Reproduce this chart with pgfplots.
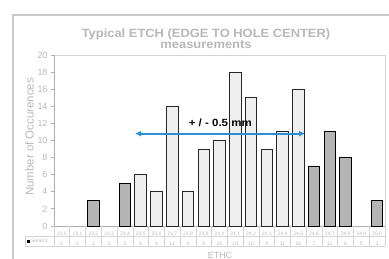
\documentclass[border=0pt]{standalone}
\usepackage{pgfplots}
\pgfplotsset{compat=1.18}
\usepackage{fontspec}
\setmainfont{Liberation Sans}
\usetikzlibrary{arrows.meta}
\definecolor{framegray}{HTML}{CACACA}
\definecolor{txtgray}{HTML}{B8B8B8}
\definecolor{axgray}{HTML}{B0B0B0}
\definecolor{tblgray}{HTML}{D4D4D4}
\definecolor{darkbar}{HTML}{B4B4B4}
\definecolor{lightbar}{HTML}{EEEFEE}
\definecolor{arrowblue}{HTML}{2A8FD6}
\begin{document}
\begin{tikzpicture}
\path[use as bounding box] (0,0) rectangle (389bp,259bp);
\draw[framegray, line width=1.3bp] (13bp,-2bp) -- (13bp,244bp) -- (392bp,244bp);
\node[txtgray, font=\bfseries\fontsize{12}{11.5}\selectfont, align=center, xscale=1.08] at (206bp,220.5bp) {Typical ETCH (EDGE TO HOLE CENTER)\\measurements};
\node[txtgray, font=\fontsize{11.5}{11.5}\selectfont, rotate=90] at (29.5bp,122bp) {Number of Occurences};
\node[txtgray, font=\fontsize{9}{9}\selectfont] at (220bp,4bp) {ETHC};
\begin{axis}[
  at={(54bp,33bp)}, anchor=south west,
  scale only axis, width=331bp, height=171bp,
  xmin=-0.5, xmax=20.5, ymin=0, ymax=20,
  ytick={0,2,...,20},
  xtick={0,...,20},
  xticklabels={{23,0\\0},{23,1\\0},{23,2\\3},{23,3\\0},{23,4\\5},{23,5\\6},{23,6\\4},{23,7\\14},{23,8\\4},{23,9\\9},{24,0\\10},{24,1\\18},{24,2\\15},{24,3\\9},{24,4\\11},{24,5\\16},{24,6\\7},{24,7\\11},{24,8\\8},{24,9\\0},{25,0\\3}},
  xticklabel style={align=center, anchor=north, inner sep=0pt, yshift=-3bp, font=\fontsize{5}{10}\selectfont, text=txtgray},
  x tick style={draw=none},
  yticklabel style={font=\fontsize{9}{9}\selectfont, text=txtgray},
  /pgf/number format/assume math mode=true,
  y tick style={axgray, line width=0.8bp},
  tick align=outside, major tick length=3bp,
  ytick pos=left,
  axis line style={draw=none},
  clip=false,
  ybar, bar shift=0pt, bar width=11.5bp,
]
\draw[tblgray, line width=0.6bp] (-0.5,20) -- (20.5,20) -- (20.5,0);
\draw[axgray, line width=1bp] (-0.5,20) -- (-0.5,0) -- (20.5,0);
\addplot[fill=darkbar, draw=black, line width=0.9bp] coordinates {(2,3) (4,5) (16,7) (17,11) (18,8) (20,3)};
\addplot[fill=lightbar, draw=black!85, line width=0.9bp] coordinates {(5,6) (6,4) (7,14) (8,4) (9,9) (10,10) (11,18) (12,15) (13,9) (14,11) (15,16)};
\pgfplotsinvokeforeach{-0.5,0.5,1.5,2.5,3.5,4.5,5.5,6.5,7.5,8.5,9.5,10.5,11.5,12.5,13.5,14.5,15.5,16.5,17.5,18.5,19.5,20.5}{
  \draw[tblgray, line width=0.6bp] (#1,0) -- ++(0pt,-20bp);
}
\draw[tblgray, line width=0.6bp] (-0.5,0) ++(-29bp,-10bp) -- ++(360bp,0pt);
\draw[tblgray, line width=0.6bp] (-0.5,0) ++(-29bp,-20bp) -- ++(360bp,0pt);
\draw[tblgray, line width=0.6bp] (-0.5,0) ++(-29bp,-10bp) -- ++(0pt,-10bp);
\node[anchor=west, inner sep=0pt, font=\fontsize{5}{5}\selectfont, text=txtgray] at ([xshift=-27bp,yshift=-15bp]-0.5,0) {\textcolor{black}{\rule{3bp}{3bp}}\,Series1};
\draw[arrowblue, line width=1.8bp, {Latex[length=6bp,width=6bp]}-{Latex[length=6bp,width=6bp]}] (4.64,10.8) -- (15.43,10.8);
\node[font=\bfseries\fontsize{10.5}{10.5}\selectfont, xscale=1.1] at (10.05,12.05) {+ / - 0.5 mm};
\end{axis}
\end{tikzpicture}
\end{document}
